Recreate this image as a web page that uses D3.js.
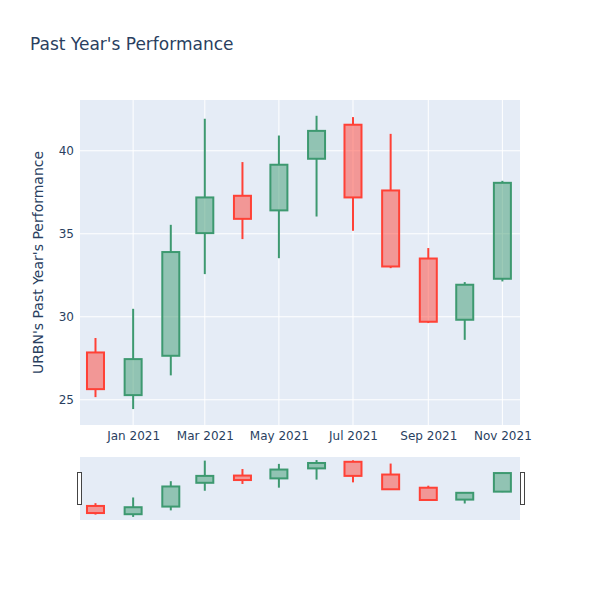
<!DOCTYPE html>
<html>
<head>
<meta charset="utf-8">
<script src="https://cdn.jsdelivr.net/npm/d3@7"></script>
<style>
  body { margin: 0; background: #fff; }
  svg { display: block; }
</style>
</head>
<body>
<svg id="chart" width="600" height="600"></svg>
<script>
// ---- data (monthly candles) ----
const dates = ["2020-12-01","2021-01-01","2021-02-01","2021-03-01","2021-04-01","2021-05-01",
               "2021-06-01","2021-07-01","2021-08-01","2021-09-01","2021-10-01","2021-11-01"];
const open  = [27.85, 25.28, 27.65, 35.04, 37.29, 36.41, 39.52, 41.57, 37.61, 33.51, 29.82, 32.29];
const high  = [28.72, 30.48, 35.54, 41.93, 39.32, 40.92, 42.11, 42.03, 41.02, 34.14, 32.09, 38.19];
const low   = [25.16, 24.44, 26.47, 32.57, 34.68, 33.53, 36.04, 35.18, 32.93, 29.62, 28.61, 32.13];
const close = [25.64, 27.45, 33.90, 37.19, 35.90, 39.16, 41.20, 37.19, 33.03, 29.70, 31.93, 38.07];
const yTicks = [25, 30, 35, 40];
const xTickDates = ["2021-01-01","2021-03-01","2021-05-01","2021-07-01","2021-09-01","2021-11-01"];
const titleText = "Past Year's Performance";
const yTitle = "URBN's Past Year's Performance";

const candles = dates.map((d, i) => ({
  date: new Date(d + "T00:00:00Z"), o: open[i], h: high[i], l: low[i], c: close[i]
}));

const FONT = "'DejaVu Sans', Verdana, sans-serif";
const TXT = "#2a3f5f";
const INC = "#3D9970", DEC = "#FF4136";

const svg = d3.select("#chart");
const L = 80, R = 520, T = 100, B = 425;
const sT = 457, sB = 520;

const x = d3.scaleUtc()
  .domain([new Date(Date.UTC(2020, 10, 18, 6)), new Date(Date.UTC(2021, 10, 15, 12))])
  .range([L, R]);
const yDomain = [23.48, 43.06];
const y = d3.scaleLinear().domain(yDomain).range([B, T]);
const ys = d3.scaleLinear().domain(yDomain).range([sB, sT]);

// box width: half of minimum spacing
let minGap = Infinity;
for (let i = 1; i < candles.length; i++) {
  minGap = Math.min(minGap, x(candles[i].date) - x(candles[i - 1].date));
}
const bw = minGap * 0.5;

// title
svg.append("text").attr("x", 30).attr("y", 50)
  .attr("font-family", FONT).attr("font-size", 17).attr("fill", TXT)
  .text(titleText);

// main background
svg.append("rect").attr("x", L).attr("y", T).attr("width", R - L).attr("height", B - T)
  .attr("fill", "#E5ECF6");

// gridlines
const gridG = svg.append("g");
yTicks.forEach(t => {
  gridG.append("line").attr("x1", L).attr("x2", R).attr("y1", y(t)).attr("y2", y(t))
    .attr("stroke", "#fff").attr("stroke-width", 1);
});
xTickDates.forEach(d => {
  const xx = x(new Date(d + "T00:00:00Z"));
  gridG.append("line").attr("x1", xx).attr("x2", xx).attr("y1", T).attr("y2", B)
    .attr("stroke", "#fff").attr("stroke-width", 1);
});

// y axis labels
const yAxis = d3.axisLeft(y).tickValues(yTicks).tickSize(0).tickPadding(6);
const yg = svg.append("g").attr("transform", `translate(${L},0)`).call(yAxis);
yg.select(".domain").remove();
yg.selectAll("text").attr("font-family", FONT).attr("font-size", 12).attr("fill", TXT);

// x axis labels
const fmt = d3.utcFormat("%b %Y");
const xAxis = d3.axisBottom(x).tickValues(xTickDates.map(d => new Date(d + "T00:00:00Z")))
  .tickFormat(fmt).tickSize(0).tickPadding(6);
const xg = svg.append("g").attr("transform", `translate(0,${B})`).call(xAxis);
xg.select(".domain").remove();
xg.selectAll("text").attr("font-family", FONT).attr("font-size", 12).attr("fill", TXT);

// y title
svg.append("text")
  .attr("transform", `translate(42.5,${(T + B) / 2}) rotate(-90)`)
  .attr("text-anchor", "middle")
  .attr("font-family", FONT).attr("font-size", 14).attr("fill", TXT)
  .text(yTitle);

function drawCandles(g, ysc) {
  candles.forEach(d => {
    const col = d.c >= d.o ? INC : DEC;
    const cx = x(d.date);
    const top = ysc(Math.max(d.o, d.c)), bot = ysc(Math.min(d.o, d.c));
    g.append("line").attr("x1", cx).attr("x2", cx).attr("y1", ysc(d.h)).attr("y2", top)
      .attr("stroke", col).attr("stroke-width", 2);
    g.append("line").attr("x1", cx).attr("x2", cx).attr("y1", bot).attr("y2", ysc(d.l))
      .attr("stroke", col).attr("stroke-width", 2);
    g.append("rect").attr("x", cx - bw / 2).attr("y", top).attr("width", bw)
      .attr("height", Math.max(bot - top, 0.5))
      .attr("fill", col).attr("fill-opacity", 0.5)
      .attr("stroke", col).attr("stroke-width", 2);
  });
}

const clip = svg.append("defs");
clip.append("clipPath").attr("id", "mainclip").append("rect")
  .attr("x", L).attr("y", T).attr("width", R - L).attr("height", B - T);
clip.append("clipPath").attr("id", "slideclip").append("rect")
  .attr("x", L).attr("y", sT).attr("width", R - L).attr("height", sB - sT);

drawCandles(svg.append("g").attr("clip-path", "url(#mainclip)"), y);

// range slider
svg.append("rect").attr("x", L).attr("y", sT).attr("width", R - L).attr("height", sB - sT)
  .attr("fill", "#E5ECF6");
drawCandles(svg.append("g").attr("clip-path", "url(#slideclip)"), ys);

// grabbers
const gh = 32, gw = 4, gy = (sT + sB) / 2 - gh / 2;
[L - 2.5, R + 0.5].forEach(gx => {
  svg.append("rect").attr("x", gx).attr("y", gy).attr("width", gw).attr("height", gh)
    .attr("fill", "#fff").attr("stroke", "#444").attr("stroke-width", 1).attr("shape-rendering", "crispEdges");
});
</script>
</body>
</html>
